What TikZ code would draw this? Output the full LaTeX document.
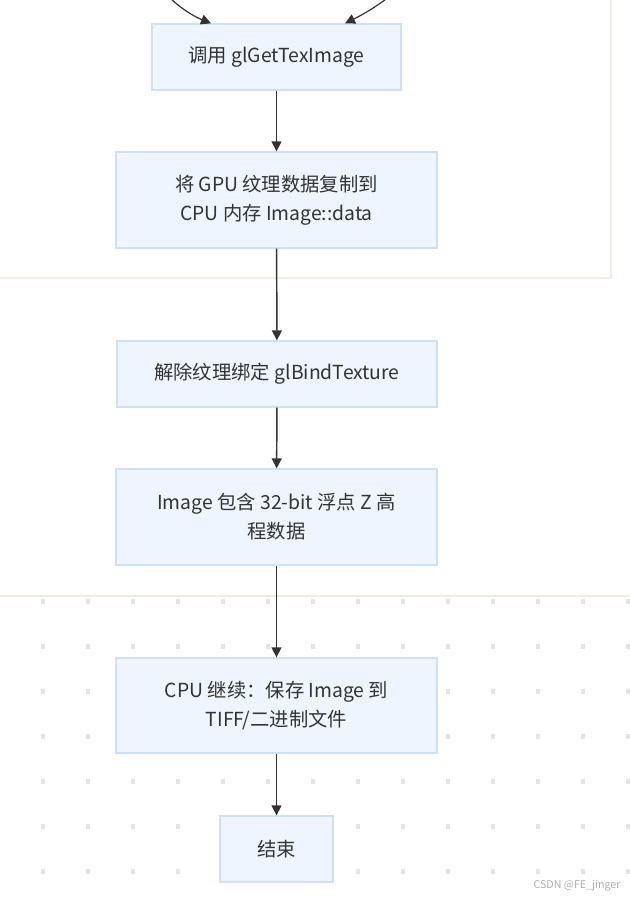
\documentclass[tikz,border=0pt]{standalone}
\usepackage{fontspec}
\setmainfont{Noto Sans CJK SC}
\usetikzlibrary{arrows.meta,calc}
\definecolor{boxfill}{HTML}{EEF5FE}
\definecolor{boxline}{HTML}{CDE0F4}
\definecolor{txt}{HTML}{333333}
\definecolor{frame}{HTML}{F5ECDF}
\definecolor{dotc}{HTML}{E4E4E4}
\tikzset{
  stepbox/.style={draw=boxline, fill=boxfill, line width=1pt, text=txt,
    align=center, inner sep=0pt, font=\fontsize{14.5}{21.75}\selectfont},
  flow/.style={draw=txt, line width=1.1pt, -{Triangle[length=7.5pt,width=7.5pt]}},
}
\begin{document}
\begin{tikzpicture}[x=0.75pt,y=-0.75pt]
\useasboundingbox (0,0) rectangle (630,897);
% background regions
\draw[frame, line width=1.2pt] (-5,278) -- (611,278) -- (611,-5);
\draw[frame, line width=1.5pt] (-5,596) -- (635,596);
\foreach \x in {-2,43,...,628}
  \foreach \y in {601,646,...,871}
    \fill[dotc] (\x-2,\y-2.5) rectangle (\x+2,\y+2.5);
% nodes
\node[stepbox, minimum width=186.75pt, minimum height=49.5pt] (b1) at (276.5,57) {调用 glGetTexImage};
\node[stepbox, minimum width=240.75pt, minimum height=72pt] (b2) at (276.5,200) {将 GPU 纹理数据复制到\\CPU 内存 Image::data};
\node[stepbox, minimum width=240pt, minimum height=49.5pt] (b3) at (277,374) {解除纹理绑定 glBindTexture};
\node[stepbox, minimum width=240.75pt, minimum height=72pt] (b4) at (276.5,517) {Image 包含 32-bit 浮点 Z 高\\程数据};
\node[stepbox, minimum width=240.75pt, minimum height=71.25pt] (b5) at (276.5,705.5) {CPU 继续：保存 Image 到\\TIFF/二进制文件};
\node[stepbox, minimum width=84.75pt, minimum height=49.5pt] (b6) at (276.5,849) {结束};
% incoming curves from above
\coordinate (inL) at (168,-4);
\coordinate (inR) at (390,-4);
\draw[flow, line width=0.9pt] (inL) .. controls (180,8) and (193,16) .. ($(b1.north)+(-65.5,0)$);
\draw[flow, line width=0.9pt] (inR) .. controls (376,7) and (362,15) .. ($(b1.north)+(68.5,0)$);
% connectors
\draw[flow] (b1) -- (b2);
\draw[flow] (b2) -- (b3);
\draw[flow] (b3) -- (b4);
\draw[flow] (b4) -- (b5);
\draw[flow] (b5) -- (b6);
% watermark
\node[text=black!32, font=\fontsize{8}{9}\selectfont, inner sep=0pt] (wm) at (577,886) {CSDN @FE\_jinger};
\end{tikzpicture}
\end{document}
